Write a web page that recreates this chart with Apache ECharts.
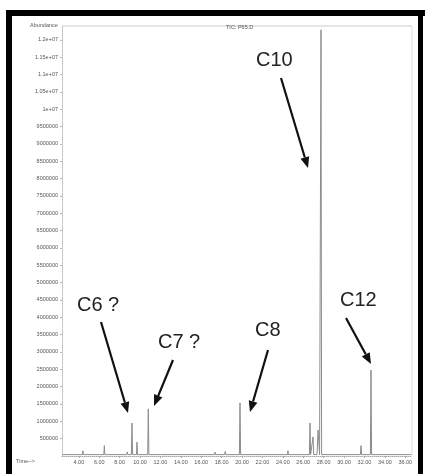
<!DOCTYPE html>
<html><head><meta charset="utf-8">
<script src="https://cdn.jsdelivr.net/npm/echarts@6/dist/echarts.min.js"></script>
<style>html,body{margin:0;padding:0;background:#fff}#c{width:425px;height:474px}</style>
</head><body><div id="c"></div>
<script>
// Retention times (min) and abundances
var times = [2.4, 4.0, 4.35, 4.4, 4.45, 6.0, 6.45, 6.5, 6.55, 8.7, 8.75, 8.8, 9.15, 9.21, 9.27, 9.65, 9.7, 9.75, 10.75, 10.81, 10.87, 12.0, 16.5, 17.3, 17.35, 17.4, 18.3, 18.35, 18.4, 19.74, 19.8, 19.86, 22.0, 24.45, 24.5, 24.55, 26.0, 26.6, 26.66, 26.72, 26.9, 26.96, 27.02, 27.35, 27.45, 27.6, 27.74, 27.8, 28.5, 31.6, 31.66, 31.72, 32.58, 32.64, 32.7, 36.6];
var abundance = [40000, 40000, 40000, 150000, 40000, 40000, 40000, 300000, 40000, 40000, 120000, 40000, 40000, 950000, 40000, 40000, 400000, 40000, 40000, 1360000, 40000, 40000, 40000, 40000, 110000, 40000, 40000, 130000, 40000, 40000, 1530000, 40000, 40000, 40000, 150000, 40000, 40000, 40000, 950000, 40000, 40000, 550000, 40000, 40000, 750000, 40000, 12290000, 40000, 40000, 40000, 300000, 40000, 40000, 2480000, 40000, 40000];
var timeLabels = [4, 6, 8, 10, 12, 14, 16, 18, 20, 22, 24, 26, 28, 30, 32, 34, 36];
var yTickValues = [500000, 1000000, 1500000, 2000000, 2500000, 3000000, 3500000, 4000000, 4500000, 5000000, 5500000, 6000000, 6500000, 7000000, 7500000, 8000000, 8500000, 9000000, 9500000, 10000000, 10500000, 11000000, 11500000, 12000000];
var yTickLabels = ['500000','1000000','1500000','2000000','2500000','3000000','3500000','4000000','4500000','5000000','5500000','6000000','6500000','7000000','7500000','8000000','8500000','9000000','9500000','1e+07','1.05e+07','1.1e+07','1.15e+07','1.2e+07'];
var annotations = ['C6 ?', 'C7 ?', 'C8', 'C10', 'C12'];

var points = times.map(function (t, i) { return [t, abundance[i]]; });
var chart = echarts.init(document.getElementById('c'), null, {renderer: 'canvas'});

function arrow(x1, y1, x2, y2) {
  var ang = Math.atan2(y2 - y1, x2 - x1), L = 11, W = 4.5;
  var bx = x2 - L * Math.cos(ang), by = y2 - L * Math.sin(ang);
  var px = -Math.sin(ang) * W, py = Math.cos(ang) * W;
  return [
    {type: 'line', shape: {x1: x1, y1: y1, x2: bx, y2: by}, style: {stroke: '#111', lineWidth: 2.2}, z: 100},
    {type: 'polygon', shape: {points: [[x2, y2], [bx + px, by + py], [bx - px, by - py]]}, style: {fill: '#111'}, z: 100}
  ];
}
function label(txt, x, y) {
  return {type: 'text', x: x, y: y, style: {text: txt, font: '20px "Liberation Sans", Arial, sans-serif', fill: '#222'}, z: 100};
}

var graphics = [
  {type: 'rect', shape: {x: 6, y: 10, width: 6, height: 470}, style: {fill: '#000'}},
  {type: 'rect', shape: {x: 6, y: 10, width: 419, height: 6}, style: {fill: '#000'}},
  {type: 'rect', shape: {x: 418, y: 10, width: 5, height: 470}, style: {fill: '#000'}},
  {type: 'line', shape: {x1: 62, y1: 26, x2: 412, y2: 26}, style: {stroke: '#ccc', lineWidth: 1}},
  {type: 'line', shape: {x1: 412, y1: 26, x2: 412, y2: 456}, style: {stroke: '#ddd', lineWidth: 1}},
  {type: 'text', x: 30, y: 22, style: {text: 'Abundance', font: '5.5px "Liberation Sans", Arial, sans-serif', fill: '#555'}},
  {type: 'text', x: 16, y: 458, style: {text: 'Time-->', font: '5.5px "Liberation Sans", Arial, sans-serif', fill: '#555'}},
  {type: 'text', x: 226, y: 24, style: {text: 'TIC: P65.D', font: '5.5px "Liberation Sans", Arial, sans-serif', fill: '#555'}},
  label(annotations[0], 77, 295),
  label(annotations[1], 158, 332),
  label(annotations[2], 255, 320),
  label(annotations[3], 256, 50),
  label(annotations[4], 340, 290)
].concat(arrow(101, 322, 128, 413))
 .concat(arrow(173, 360, 154, 406))
 .concat(arrow(268, 350, 250, 412))
 .concat(arrow(281, 78, 308, 168))
 .concat(arrow(346, 318, 371, 364));

chart.setOption({
  animation: false,
  backgroundColor: '#fff',
  grid: {left: 62, right: 13, top: 26, bottom: 18},
  xAxis: {
    type: 'value', min: 2.35, max: 36.66,
    axisLine: {show: true, lineStyle: {color: '#aaa', width: 1, type: 'dotted'}},
    axisTick: {show: true, length: 2, lineStyle: {color: '#aaa'}, customValues: timeLabels},
    splitLine: {show: false},
    axisLabel: {customValues: timeLabels, margin: 3, fontSize: 5.5, color: '#555',
      fontFamily: '"Liberation Sans", Arial, sans-serif',
      formatter: function (v) { return v.toFixed(2); }}
  },
  yAxis: {
    type: 'value', min: 0, max: 12400000,
    axisLine: {show: true, lineStyle: {color: '#bbb', width: 1, type: 'dotted'}},
    axisTick: {show: true, length: 2, lineStyle: {color: '#bbb'}, customValues: yTickValues},
    splitLine: {show: false},
    axisLabel: {customValues: yTickValues, margin: 4, fontSize: 5.5, color: '#555',
      fontFamily: '"Liberation Sans", Arial, sans-serif',
      formatter: function (v) { var i = yTickValues.indexOf(v); return i >= 0 ? yTickLabels[i] : ''; }}
  },
  series: [{
    type: 'line', data: points, showSymbol: false, symbol: 'none',
    lineStyle: {color: '#8c8c8c', width: 1}, z: 5
  }],
  graphic: graphics
});
</script></body></html>
